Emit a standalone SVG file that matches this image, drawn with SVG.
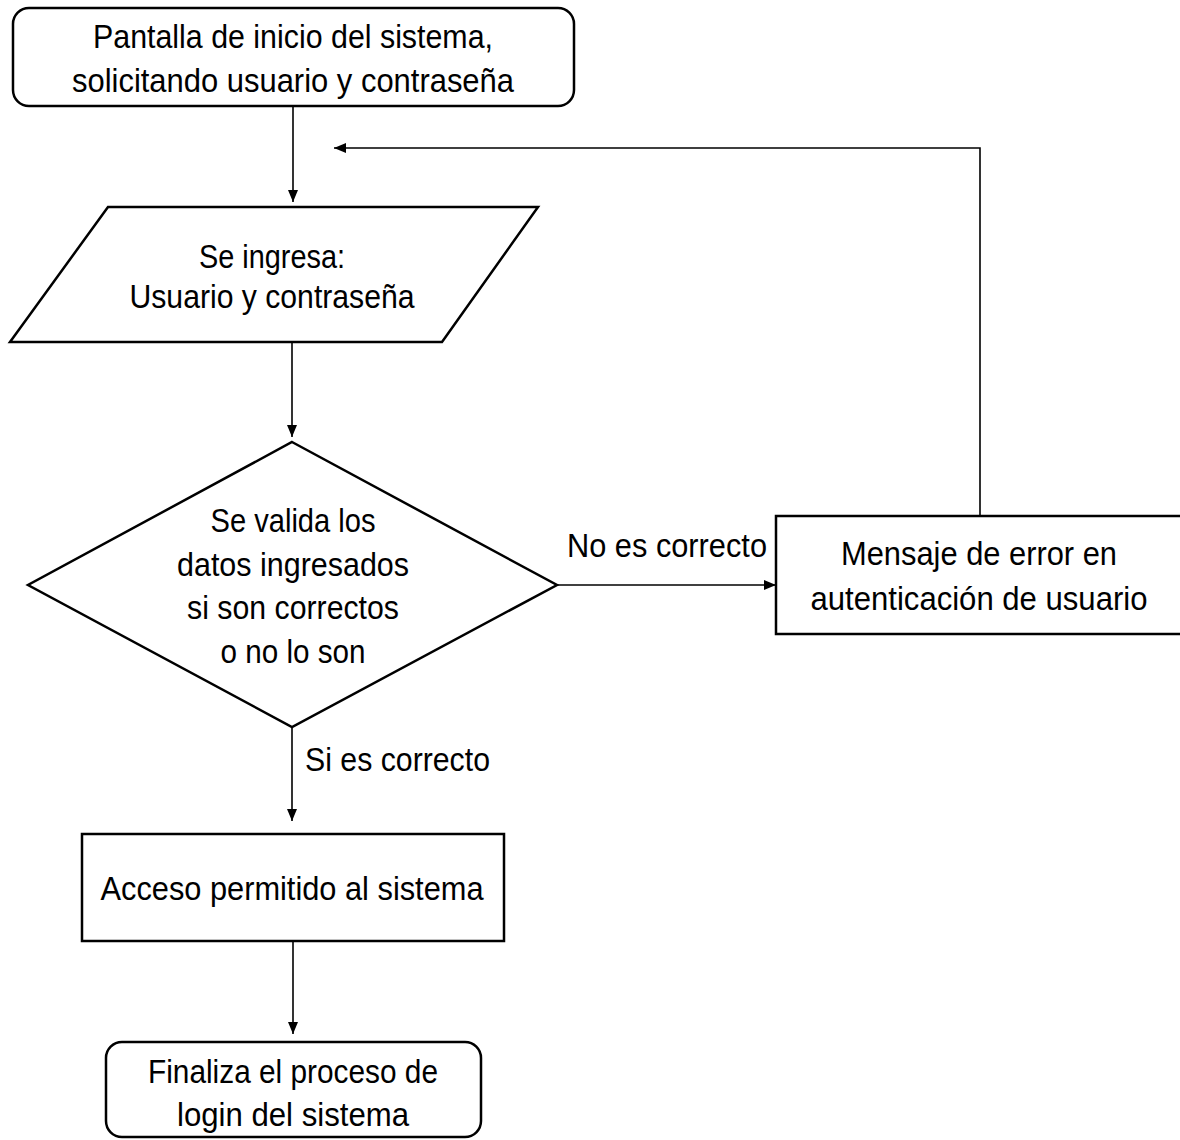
<svg xmlns="http://www.w3.org/2000/svg" width="1180" height="1140" viewBox="0 0 1180 1140">
<defs>
<style>
.s{fill:#fff;stroke:#000;stroke-width:2.5}
.c{fill:none;stroke:#000;stroke-width:1.6}
text{font-family:"Liberation Sans",Arial,sans-serif;font-size:33px;fill:#000;text-anchor:middle}
.l{text-anchor:start}
</style>
<marker id="a" viewBox="0 0 12 12" refX="12" refY="6" markerWidth="12" markerHeight="12" markerUnits="userSpaceOnUse" orient="auto">
<path d="M0,1 L12,6 L0,11 Z" fill="#000"/>
</marker>
</defs>
<rect width="1180" height="1140" fill="#fff"/>
<g id="connectors">
<path class="c" d="M293,106 V202" marker-end="url(#a)"/>
<path class="c" d="M292,342 V437" marker-end="url(#a)"/>
<path class="c" d="M557,585 H776" marker-end="url(#a)"/>
<path class="c" d="M980,516 V148 H334" marker-end="url(#a)"/>
<path class="c" d="M292,727 V821" marker-end="url(#a)"/>
<path class="c" d="M293,941 V1034" marker-end="url(#a)"/>
<text class="l" x="567" y="557" textLength="200" lengthAdjust="spacingAndGlyphs">No es correcto</text>
<text class="l" x="305" y="771" textLength="185" lengthAdjust="spacingAndGlyphs">Si es correcto</text>
</g>
<g id="start">
<rect class="s" x="13" y="8" width="561" height="98" rx="16"/>
<text x="293" y="48" textLength="400" lengthAdjust="spacingAndGlyphs">Pantalla de inicio del sistema,</text>
<text x="293" y="92" textLength="442" lengthAdjust="spacingAndGlyphs">solicitando usuario y contraseña</text>
</g>
<g id="input">
<polygon class="s" points="108,207 538,207 442,342 10,342"/>
<text x="272" y="268" textLength="146" lengthAdjust="spacingAndGlyphs">Se ingresa:</text>
<text x="272" y="308" textLength="285" lengthAdjust="spacingAndGlyphs">Usuario y contraseña</text>
</g>
<g id="decision">
<polygon class="s" points="292,442 557,585 292,727 28,585"/>
<text x="293" y="532" textLength="165" lengthAdjust="spacingAndGlyphs">Se valida los</text>
<text x="293" y="576" textLength="232" lengthAdjust="spacingAndGlyphs">datos ingresados</text>
<text x="293" y="619" textLength="212" lengthAdjust="spacingAndGlyphs">si son correctos</text>
<text x="293" y="663" textLength="145" lengthAdjust="spacingAndGlyphs">o no lo son</text>
</g>
<g id="error">
<rect class="s" x="776" y="516" width="410" height="118"/>
<text x="979" y="565" textLength="276" lengthAdjust="spacingAndGlyphs">Mensaje de error en</text>
<text x="979" y="610" textLength="337" lengthAdjust="spacingAndGlyphs">autenticación de usuario</text>
</g>
<g id="access">
<rect class="s" x="82" y="834" width="422" height="107"/>
<text x="292" y="900" textLength="383" lengthAdjust="spacingAndGlyphs">Acceso permitido al sistema</text>
</g>
<g id="end">
<rect class="s" x="106" y="1042" width="375" height="95" rx="16"/>
<text x="293" y="1083" textLength="290" lengthAdjust="spacingAndGlyphs">Finaliza el proceso de</text>
<text x="293" y="1126" textLength="232" lengthAdjust="spacingAndGlyphs">login del sistema</text>
</g>
</svg>
